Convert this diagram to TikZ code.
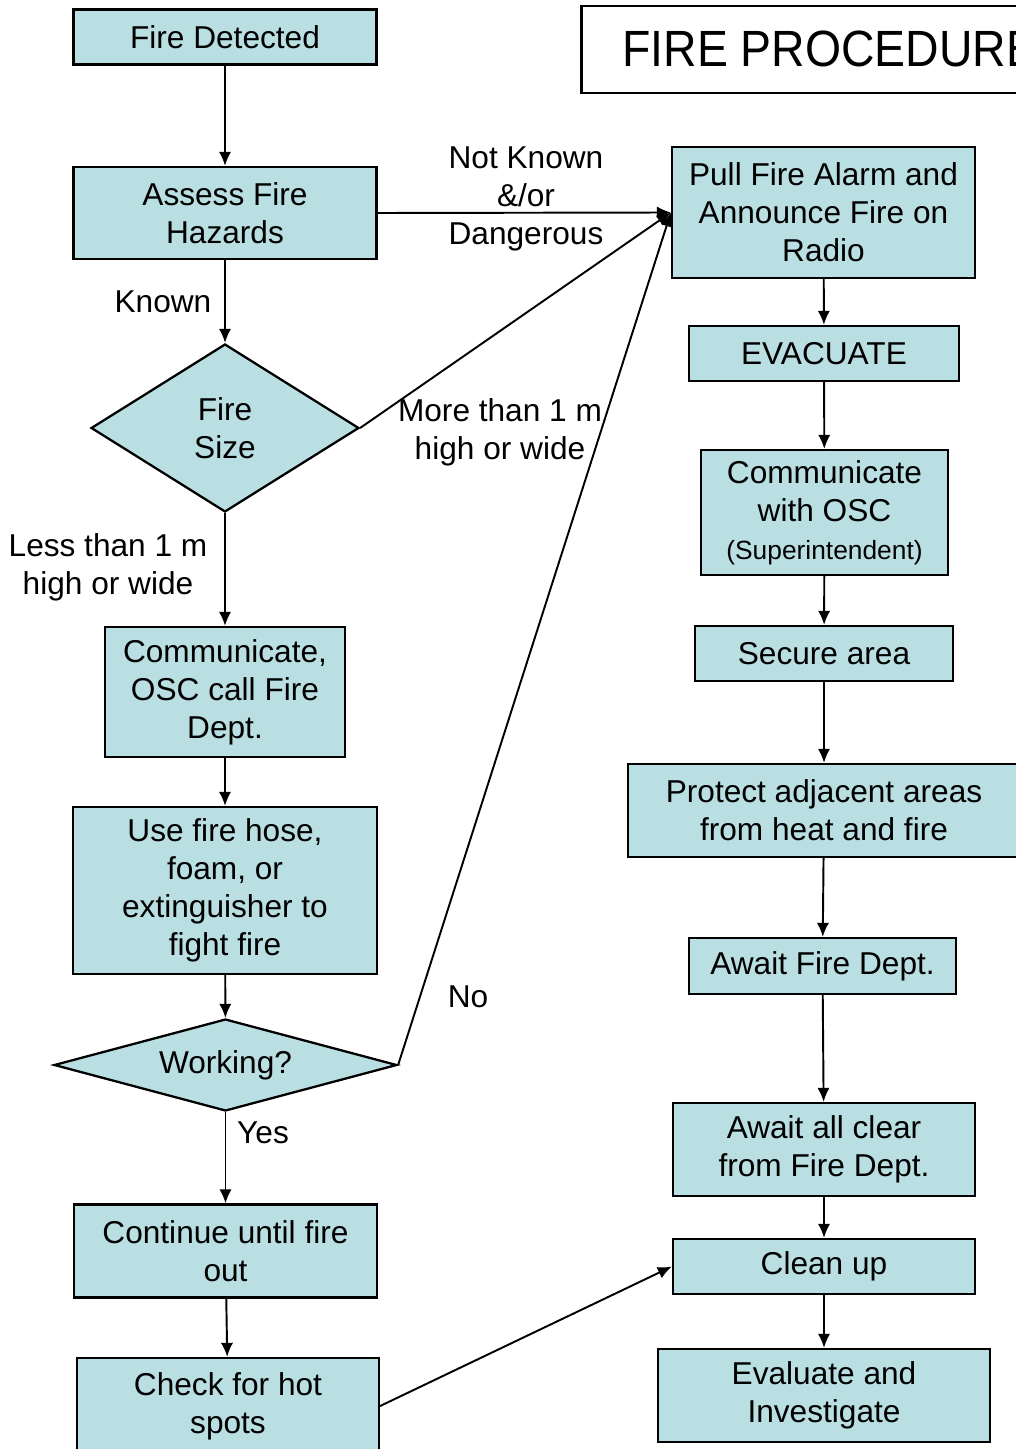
\documentclass[tikz,border=0pt]{standalone}
\usepackage{fontspec}
\setmainfont{Liberation Sans}
\newfontfamily\titlefont{Liberation Sans}[FakeStretch=0.91]
\usepackage{xcolor}
\usetikzlibrary{shapes.geometric,arrows.meta}
\definecolor{boxfill}{RGB}{185,223,226}
\tikzset{>={Latex[length=8pt,width=7pt]}}
\tikzset{
  proc/.style={draw,line width=1.3pt,fill=boxfill,align=center,inner sep=0pt,font=\fontsize{18}{21.6}\selectfont},
  decide/.style={proc,diamond},
  flow/.style={->,line width=1.1pt},
  lbl/.style={align=center,inner sep=0pt,font=\fontsize{18}{21.6}\selectfont}
}

\begin{document}
\begin{tikzpicture}[x=0.02cm,y=-0.02cm]
  \useasboundingbox (0,0) rectangle (1015,1449);

  % Title
  \draw[line width=1.7pt] (581,6) rectangle (1040,93);
  \node[anchor=base west,inner sep=0pt,font=\titlefont\fontsize{29}{34}\selectfont] (title) at (622,67) {FIRE PROCEDURE};

  % Left column
  \node[proc,minimum width=6.06cm,minimum height=1.10cm] (detect) at (225,37) {Fire Detected};
  \node[proc,minimum width=6.06cm,minimum height=1.84cm] (assess) at (225,213) {Assess Fire\\Hazards};
  \node[decide,aspect=1.6,minimum width=5.36cm,minimum height=3.36cm] (size) at (225,428) {Fire\\Size};
  \node[proc,minimum width=4.80cm,minimum height=2.60cm] (callfd) at (225,692) {Communicate,\\OSC call Fire\\Dept.};
  \node[proc,minimum width=6.08cm,minimum height=3.34cm] (hose) at (225,890.5) {Use fire hose,\\foam, or\\extinguisher to\\fight fire};
  \node[decide,aspect=3.73,minimum width=6.86cm,minimum height=1.84cm] (working) at (225.5,1065) {Working?};
  \node[proc,minimum width=6.06cm,minimum height=1.86cm] (until) at (225.5,1251) {Continue until fire\\out};
  \node[proc,minimum width=6.04cm,minimum height=1.92cm] (hotspot) at (228,1406) {Check for hot\\spots};

  % Right column
  \node[proc,minimum width=6.06cm,minimum height=2.62cm] (alarm) at (823.5,212.5) {Pull Fire Alarm and\\Announce Fire on\\Radio};
  \node[proc,minimum width=5.40cm,minimum height=1.10cm] (evac) at (824,353.5) {EVACUATE};
  \node[proc,minimum width=4.94cm,minimum height=2.50cm] (osc) at (824.5,512.5) {Communicate\\with OSC\\{\fontsize{15}{18}\selectfont(Superintendent)}};
  \node[proc,minimum width=5.16cm,minimum height=1.10cm] (secure) at (824,653.5) {Secure area};
  \node[proc,minimum width=7.84cm,minimum height=1.86cm] (protect) at (824,810.5) {Protect adjacent areas\\from heat and fire};
  \node[proc,minimum width=5.34cm,minimum height=1.12cm] (awaitfd) at (822.5,966) {Await Fire Dept.};
  \node[proc,minimum width=6.04cm,minimum height=1.86cm] (allclear) at (824,1149.5) {Await all clear\\from Fire Dept.};
  \node[proc,minimum width=6.04cm,minimum height=1.10cm] (cleanup) at (824,1266.5) {Clean up};
  \node[proc,minimum width=6.64cm,minimum height=1.86cm] (evaluate) at (824,1395.5) {Evaluate and\\Investigate};

  % Arrows
  \draw[flow] (detect) -- (assess);
  \draw[flow] (assess) -- (size);
  \draw[flow] (size) -- (callfd);
  \draw[flow] (callfd) -- (hose);
  \draw[flow] (hose) -- (working);
  \draw[flow] (working) -- (until);
  \draw[flow] (until) -- (hotspot);
  \draw[flow] (assess.east) -- (alarm.west);
  \draw[flow] (size.east) -- (alarm.west);
  \draw[flow] (working.east) -- (alarm.west);
  \draw[flow] (hotspot.east) -- (cleanup.west);
  \draw[flow] (alarm) -- (evac);
  \draw[flow] (evac) -- (osc);
  \draw[flow] (osc) -- (secure);
  \draw[flow] (secure) -- (protect);
  \draw[flow] (protect) -- (awaitfd);
  \draw[flow] (awaitfd) -- (allclear);
  \draw[flow] (allclear) -- (cleanup);
  \draw[flow] (cleanup) -- (evaluate);

  % Labels
  \node[lbl] (notknown) at (526,199) {Not Known\\\&/or\\Dangerous};
  \node[lbl] (known) at (163,302) {Known};
  \node[lbl] (more) at (500,432) {More than 1 m\\high or wide};
  \node[lbl] (less) at (108,567) {Less than 1 m\\high or wide};
  \node[lbl] (no) at (468,997) {No};
  \node[lbl] (yes) at (263,1133) {Yes};
\end{tikzpicture}
\end{document}
